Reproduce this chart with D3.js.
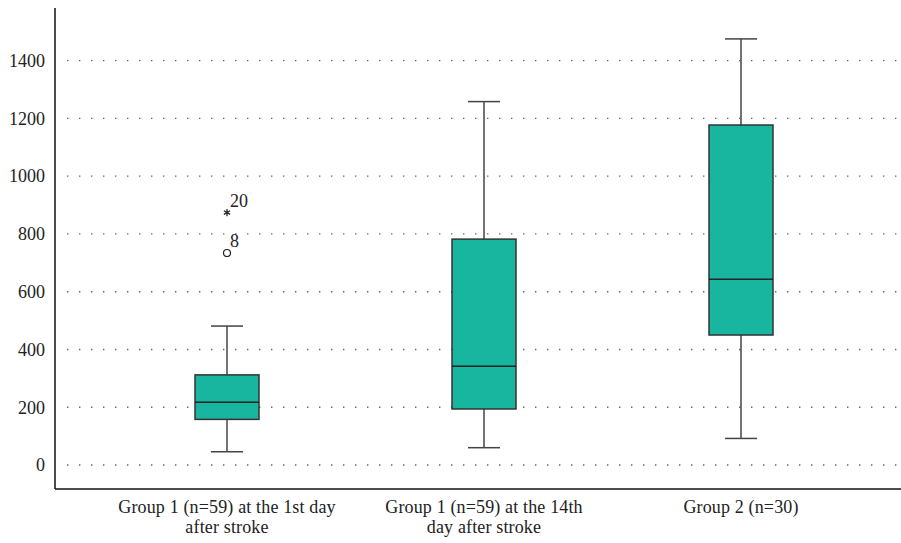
<!DOCTYPE html>
<html><head><meta charset="utf-8">
<script src="https://cdn.jsdelivr.net/npm/d3@7"></script>
<style>body{margin:0;background:#fff;}</style>
</head><body><svg id="c" width="901" height="543"></svg>
<script>
const categories = [["Group 1 (n=59) at the 1st day","after stroke"],["Group 1 (n=59) at the 14th","day after stroke"],["Group 2 (n=30)"]];
const whiskerLow = [46, 60, 92];
const q1 = [158, 194, 450];
const median = [217, 342, 643];
const q3 = [312, 782, 1177];
const whiskerHigh = [481, 1258, 1475];
const outliers = [{group:0, value:734, label:"8", shape:"circle"}, {group:0, value:874, label:"20", shape:"star"}];
const yTicks = [0,200,400,600,800,1000,1200,1400];

const FONT = "'Liberation Serif', 'DejaVu Serif', serif";
const svg = d3.select("#c");
const y = d3.scaleLinear().domain([-83, 1582]).range([489, 8]);
const keys = categories.map((c,i)=>i);
const x = d3.scalePoint().domain(keys).range([98.5, 869.5]).padding(0.5);
const boxW = 64, capW = 32;

// grid
svg.append("g").selectAll("line").data(yTicks).join("line")
  .attr("x1", 67).attr("x2", 901).attr("y1", d=>y(d)).attr("y2", d=>y(d))
  .attr("stroke", "#666").attr("stroke-width", 1.4).attr("stroke-dasharray", "1.4,10.6");

// y axis
const ya = d3.axisLeft(y).tickValues(yTicks).tickSize(0).tickPadding(10).tickFormat(d3.format("d"));
const gy = svg.append("g").attr("transform","translate(55,0)").call(ya);
gy.attr("font-family", FONT).attr("font-size", 18);
gy.select(".domain").remove();
gy.selectAll("text").style("font-family", FONT).style("font-size","18px").style("fill","#222");
svg.append("line").attr("x1",55).attr("x2",55).attr("y1",8).attr("y2",489).attr("stroke","#111").attr("stroke-width",1.5);
svg.append("line").attr("x1",55).attr("x2",901).attr("y1",489).attr("y2",489).attr("stroke","#111").attr("stroke-width",1.5);

// boxes
const g = svg.append("g");
keys.forEach(i=>{
  const cx = x(i);
  g.append("line").attr("x1",cx).attr("x2",cx).attr("y1",y(whiskerLow[i])).attr("y2",y(q1[i])).attr("stroke","#444").attr("stroke-width",1.5);
  g.append("line").attr("x1",cx).attr("x2",cx).attr("y1",y(q3[i])).attr("y2",y(whiskerHigh[i])).attr("stroke","#444").attr("stroke-width",1.5);
  g.append("line").attr("x1",cx-capW/2).attr("x2",cx+capW/2).attr("y1",y(whiskerLow[i])).attr("y2",y(whiskerLow[i])).attr("stroke","#444").attr("stroke-width",1.5);
  g.append("line").attr("x1",cx-capW/2).attr("x2",cx+capW/2).attr("y1",y(whiskerHigh[i])).attr("y2",y(whiskerHigh[i])).attr("stroke","#444").attr("stroke-width",1.5);
  g.append("rect").attr("x",cx-boxW/2).attr("width",boxW).attr("y",y(q3[i])).attr("height",y(q1[i])-y(q3[i]))
    .attr("fill","#18b59f").attr("stroke","#333").attr("stroke-width",1.5);
  g.append("line").attr("x1",cx-boxW/2).attr("x2",cx+boxW/2).attr("y1",y(median[i])).attr("y2",y(median[i])).attr("stroke","#222").attr("stroke-width",1.5);
});

// outliers
outliers.forEach(o=>{
  const cx = x(o.group), cy = y(o.value);
  if(o.shape==="circle"){
    g.append("circle").attr("cx",cx).attr("cy",cy).attr("r",3.5).attr("fill","#fff").attr("stroke","#222").attr("stroke-width",1.2);
  } else {
    g.append("path").attr("transform",`translate(${cx},${cy})`).attr("d",d3.symbol(d3.symbolAsterisk,36)()).attr("stroke","#222").attr("stroke-width",1.3);
  }
  g.append("text").attr("x",cx+3).attr("y",cy-6).style("font-family",FONT).style("font-size","18px").style("fill","#222").text(o.label);
});

// x labels
const xl = svg.append("g");
keys.forEach(i=>{
  const t = xl.append("text").attr("x",x(i)).attr("y",513).attr("text-anchor","middle")
    .style("font-family",FONT).style("font-size","18px").style("letter-spacing","0.15px").style("fill","#222");
  categories[i].forEach((line,j)=>{
    t.append("tspan").attr("x",x(i)).attr("dy", j===0?0:20).text(line);
  });
});
</script></body></html>
